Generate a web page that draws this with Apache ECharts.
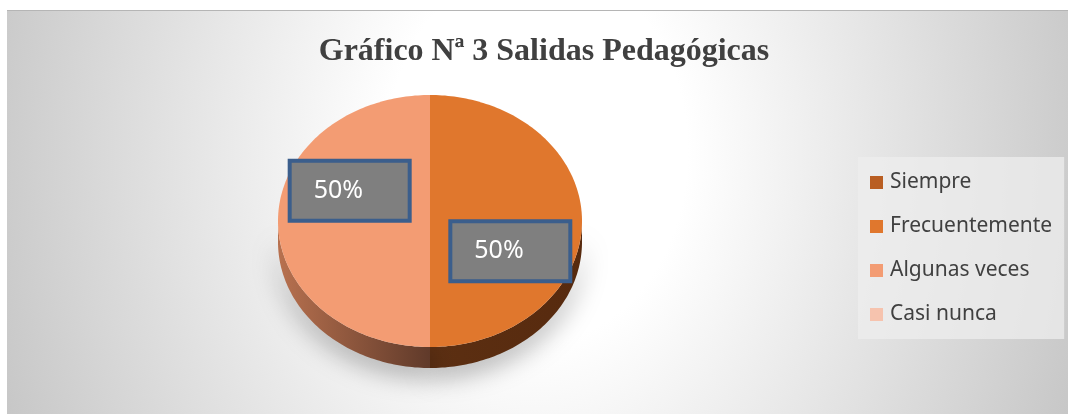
<!DOCTYPE html>
<html>
<head>
<meta charset="utf-8">
<script src="https://cdn.jsdelivr.net/npm/echarts@6/dist/echarts.min.js"></script>
<style>
  html, body { margin: 0; padding: 0; background: #fff; }
  #bg {
    position: absolute; left: 7px; top: 10px; width: 1061px; height: 403px;
    border-top: 1px solid #b5b5b5;
    background: radial-gradient(ellipse 600px 760px at 50% 35%, #ffffff 25%, #c3c3c3 100%);
  }
  #main { position: absolute; left: 0; top: 0; width: 1068px; height: 414px; }
</style>
</head>
<body>
<div id="bg"></div>
<div id="main"></div>
<script>
// datos del gráfico
const categorias = ['Siempre', 'Frecuentemente', 'Algunas veces', 'Casi nunca'];
const valores = [0, 50, 50, 0];

const colores = ['#b95e22', '#e0772d', '#f39c73', '#f6c3ae'];
const coloresLado = [
  ['#6e3510', '#5a2c10'],
  ['#5c2f12', '#572a0e'],
  ['#b8714f', '#603a2a'],
  ['#a07060', '#705040']
];

const total = valores.reduce((a, b) => a + b, 0);
const cx = 430, cy = 221, rx = 152, ry = 126, depth = 21;

function arco(a0, a1, dy) {
  const pts = [];
  const n = Math.max(2, Math.ceil(Math.abs(a1 - a0) / 0.02));
  for (let i = 0; i <= n; i++) {
    const t = a0 + (a1 - a0) * i / n;
    pts.push([cx + rx * Math.cos(t), cy + dy + ry * Math.sin(t)]);
  }
  return pts;
}

function renderItem(params, api) {
  const i = params.dataIndex;
  const v = api.value(0);
  if (!v) return null;
  let antes = 0;
  for (let k = 0; k < i; k++) antes += valores[k];
  const a0 = -Math.PI / 2 + antes / total * Math.PI * 2;
  const a1 = a0 + v / total * Math.PI * 2;
  const children = [];

  // lado (parte inferior visible)
  const s0 = Math.max(a0, 0), s1 = Math.min(a1, Math.PI);
  if (s1 > s0) {
    const arriba = arco(s0, s1, 0);
    const abajo = arco(s0, s1, depth).reverse();
    const cl = coloresLado[i];
    children.push({
      type: 'polygon',
      shape: { points: arriba.concat(abajo) },
      style: {
        fill: new echarts.graphic.LinearGradient(0, 0, 1, 0, [
          { offset: 0, color: cl[0] }, { offset: 1, color: cl[1] }
        ]),
        shadowColor: 'rgba(0,0,0,0.35)',
        shadowBlur: 26,
        shadowOffsetY: 8
      },
      z2: 1
    });
  }

  // cara superior
  children.push({
    type: 'polygon',
    shape: { points: [[cx, cy]].concat(arco(a0, a1, 0)) },
    style: { fill: colores[i] },
    z2: 2
  });

  // etiqueta
  const mid = (a0 + a1) / 2 + 0.425;
  const lx = cx + Math.cos(mid) * 0.58 * rx;
  const ly = cy + Math.sin(mid) * 0.58 * ry;
  const w = 120, h = 60;
  children.push({
    type: 'rect',
    shape: { x: lx - w / 2, y: ly - h / 2, width: w, height: h },
    style: { fill: '#7f7f7f', stroke: '#3b5e8c', lineWidth: 4 },
    z2: 3
  });
  children.push({
    type: 'text',
    x: lx - w / 2 + 24, y: ly,
    style: {
      text: Math.round(v / total * 100) + '%',
      fill: '#ffffff',
      font: '25px "Noto Sans"',
      verticalAlign: 'middle'
    },
    z2: 4
  });
  return { type: 'group', children: children };
}

const chart = echarts.init(document.getElementById('main'));
chart.setOption({
  animation: false,
  color: colores,
  title: {
    text: 'Gráfico Nª 3 Salidas Pedagógicas',
    left: 539, top: 31, textAlign: 'center',
    textStyle: { fontFamily: '"Liberation Serif"', fontWeight: 'bold', fontSize: 32, color: '#404040' }
  },
  legend: {
    orient: 'vertical',
    left: 858, top: 157,
    padding: [15, 12, 14, 12],
    itemGap: 23,
    itemWidth: 13, itemHeight: 13,
    icon: 'rect',
    backgroundColor: 'rgba(238,238,238,0.75)',
    data: categorias,
    textStyle: { fontFamily: '"Noto Sans"', fontSize: 21, color: '#404040', padding: [0, 0, 0, 2] },
    selectedMode: false
  },
  series: [
    {
      // serie auxiliar para la leyenda
      type: 'pie',
      radius: 0,
      center: [cx, cy],
      silent: true,
      label: { show: false },
      labelLine: { show: false },
      data: categorias.map((c, i) => ({ name: c, value: valores[i] }))
    },
    {
      type: 'custom',
      coordinateSystem: 'none',
      silent: true,
      renderItem: renderItem,
      data: valores.map(v => [v])
    }
  ]
});
</script>
</body>
</html>
